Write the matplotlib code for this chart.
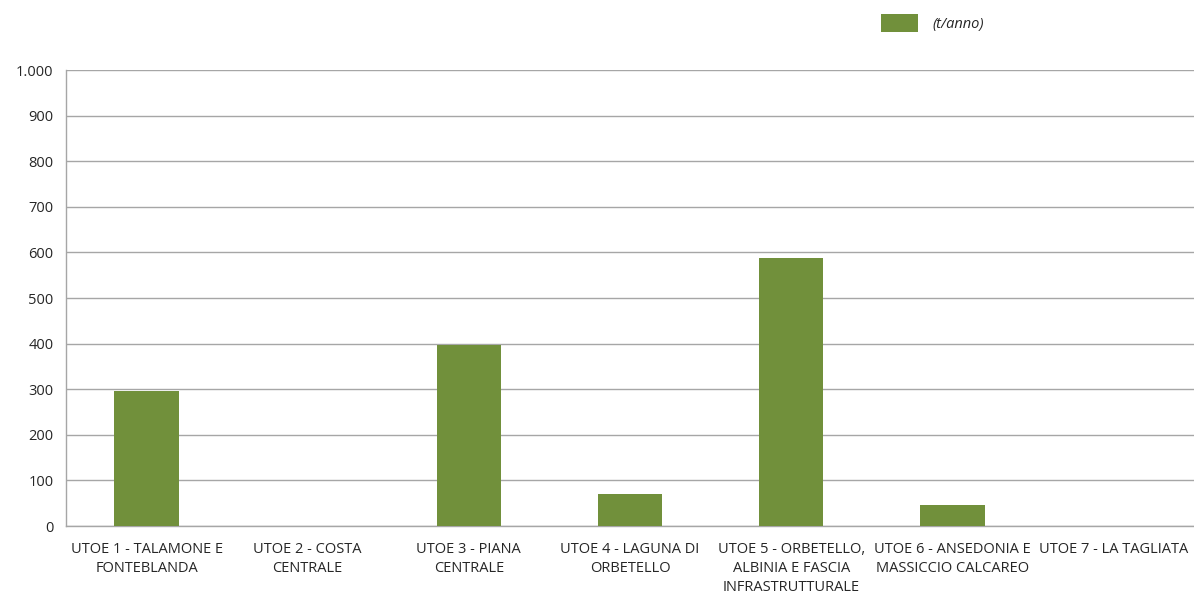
import numpy as np
import matplotlib.pyplot as plt
from matplotlib.patches import Patch

# UTOE areas and yearly amount (t/anno)
categories = [
    "UTOE 1 - TALAMONE E\nFONTEBLANDA",
    "UTOE 2 - COSTA\nCENTRALE",
    "UTOE 3 - PIANA\nCENTRALE",
    "UTOE 4 - LAGUNA DI\nORBETELLO",
    "UTOE 5 - ORBETELLO,\nALBINIA E FASCIA\nINFRASTRUTTURALE",
    "UTOE 6 - ANSEDONIA E\nMASSICCIO CALCAREO",
    "UTOE 7 - LA TAGLIATA",
]
values = [296, 0, 397, 70, 588, 47, 0]
yticks = [0, 100, 200, 300, 400, 500, 600, 700, 800, 900, 1000]
ytick_labels = ["0", "100", "200", "300", "400", "500", "600", "700", "800", "900", "1.000"]

plt.rcParams['font.family'] = ['Open Sans', 'DejaVu Sans']

bar_color = '#71903b'
grid_color = '#a6a6a6'
text_color = '#262626'
fs = 10.5

fig = plt.figure(figsize=(11.94, 5.95), dpi=100)
ax = fig.add_axes([66 / 1194, 69 / 595, 1 - 66 / 1194, 456 / 595])

x = np.arange(len(categories))
ax.bar(x, values, width=0.4, color=bar_color, zorder=3)

ax.set_xlim(-0.5, len(categories) - 0.5)
ax.set_ylim(0, 1000)
ax.set_yticks(yticks)
ax.set_yticklabels(ytick_labels, fontsize=fs, color=text_color)
ax.set_xticks(x)
ax.set_xticklabels(categories, fontsize=fs, color=text_color, linespacing=1.38, va='top')
ax.tick_params(axis='both', length=0)
ax.tick_params(axis='y', pad=9)
ax.tick_params(axis='x', pad=11.5)

ax.grid(axis='y', color=grid_color, linewidth=1, zorder=0)
for s in ['top', 'right']:
    ax.spines[s].set_visible(False)
for s in ['left', 'bottom']:
    ax.spines[s].set_color(grid_color)
    ax.spines[s].set_linewidth(1)

handle = Patch(facecolor=bar_color, label='(t/anno)')
leg = fig.legend(handles=[handle], loc='center left', bbox_to_anchor=(868 / 1194, 1 - 23 / 595),
                 frameon=False, handlelength=2.5, handleheight=1.5, handletextpad=1.0,
                 prop={'style': 'italic', 'size': fs})
for t in leg.get_texts():
    t.set_color(text_color)

fig.savefig('out.png', dpi=100)
